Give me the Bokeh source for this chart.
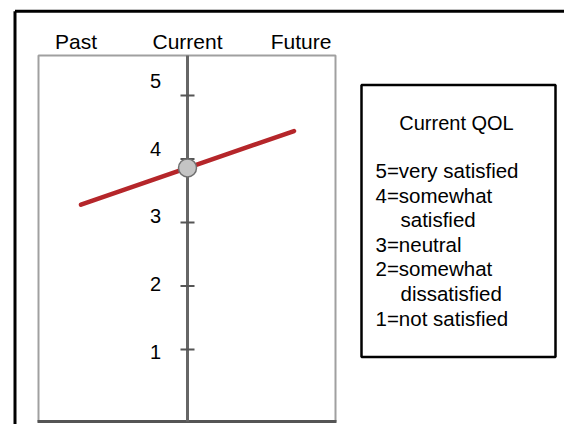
from bokeh.plotting import figure
from bokeh.models import Range1d, ColumnDataSource
from bokeh.core.properties import value
from bokeh.embed import file_html
from bokeh.resources import INLINE

# ---- data ----
periods = ["Past", "Current", "Future"]
qol = [3.28, 3.86, 4.44]
tick_values = [1, 2, 3, 4, 5]
tick_labels = ["1", "2", "3", "4", "5"]
legend_title = "Current QOL"
legend_lines = ["5=very satisfied", "4=somewhat", "satisfied", "3=neutral",
                "2=somewhat", "dissatisfied", "1=not satisfied"]
legend_indent = [0, 0, 1, 0, 0, 1, 0]

# ---- layout (picture pixels -> data units) ----
W, H = 564, 424
AX_PX, Y5_PX = 187.0, 95.0          # picture position of x=0 and y=5
UX, UY = 106.5, 63.5                # pixels per data unit


def dx(px):
    return (px - AX_PX) / UX


def dy(py):
    return 5 - (py - Y5_PX) / UY


FONT = value("Liberation Sans")

p = figure(width=W, height=H, output_backend="svg", toolbar_location=None,
           x_range=Range1d(dx(0), dx(W)),
           y_range=Range1d(dy(H), dy(0)),
           min_border=0, outline_line_color=None)
p.axis.visible = False
p.grid.visible = False
p.background_fill_color = "white"
p.border_fill_color = "white"

# outer frame (top and left)
p.segment(x0=[dx(14.5), dx(14.5)], y0=[dy(10.7), dy(10.7)],
          x1=[dx(14.5), dx(600)], y1=[dy(600), dy(10.7)],
          line_color="black", line_width=3)

# inner chart box
p.quad(left=dx(38), right=dx(335), top=dy(55), bottom=dy(421),
       fill_color="white", line_color="#a0a0a0", line_width=2)
p.segment(x0=dx(37), y0=dy(421), x1=dx(336), y1=dy(421),
          line_color="#555555", line_width=3)

xs = [i - 1 for i in range(len(periods))]

# vertical axis
p.segment(x0=0, y0=dy(421), x1=0, y1=dy(55), line_color="#666666", line_width=3)
# ticks
p.segment(x0=[-7 / UX] * len(tick_values), y0=tick_values,
          x1=[7 / UX] * len(tick_values), y1=tick_values,
          line_color="#555555", line_width=2)

# tick labels
tick_src = ColumnDataSource(dict(x=[dx(155)] * len(tick_values), y=tick_values,
                                 t=tick_labels, dy=[2, -2.5, -7, -10.5, -15]))
p.text(x="x", y="y", text="t", y_offset="dy", source=tick_src,
       text_font=FONT, text_font_size="20px", text_color="black",
       text_align="center", text_baseline="middle")

# header labels
head_src = ColumnDataSource(dict(x=xs, y=[dy(41)] * len(periods), t=periods,
                                 ox=[-5, 0, 7]))
p.text(x="x", y="y", text="t", x_offset="ox", source=head_src,
       text_font=FONT, text_font_size="21px", text_color="black",
       text_align="center", text_baseline="middle")

# QOL line and current point
p.line(xs, qol, line_color="#b5262a", line_width=4.5, line_cap="round")
p.scatter([xs[1]], [qol[1]], size=18, fill_color="#c4c4c4",
          line_color="#707070", line_width=1.5)

# legend box
p.quad(left=dx(361), right=dx(555), top=dy(84.5), bottom=dy(356.5),
       fill_color="white", line_color="black", line_width=2.5)
p.text(x=[dx(456)], y=[dy(122)], text=[legend_title],
       text_font=FONT, text_font_size="20px", text_color="black",
       text_align="center", text_baseline="middle")
leg_src = ColumnDataSource(dict(
    x=[dx(375 + 25 * k) for k in legend_indent],
    y=[dy(170 + 24.6 * i) for i in range(len(legend_lines))],
    t=legend_lines))
p.text(x="x", y="y", text="t", source=leg_src,
       text_font=FONT, text_font_size="20.5px", text_color="black",
       text_align="left", text_baseline="middle")

open("out.html", "w").write(file_html(p, INLINE))
